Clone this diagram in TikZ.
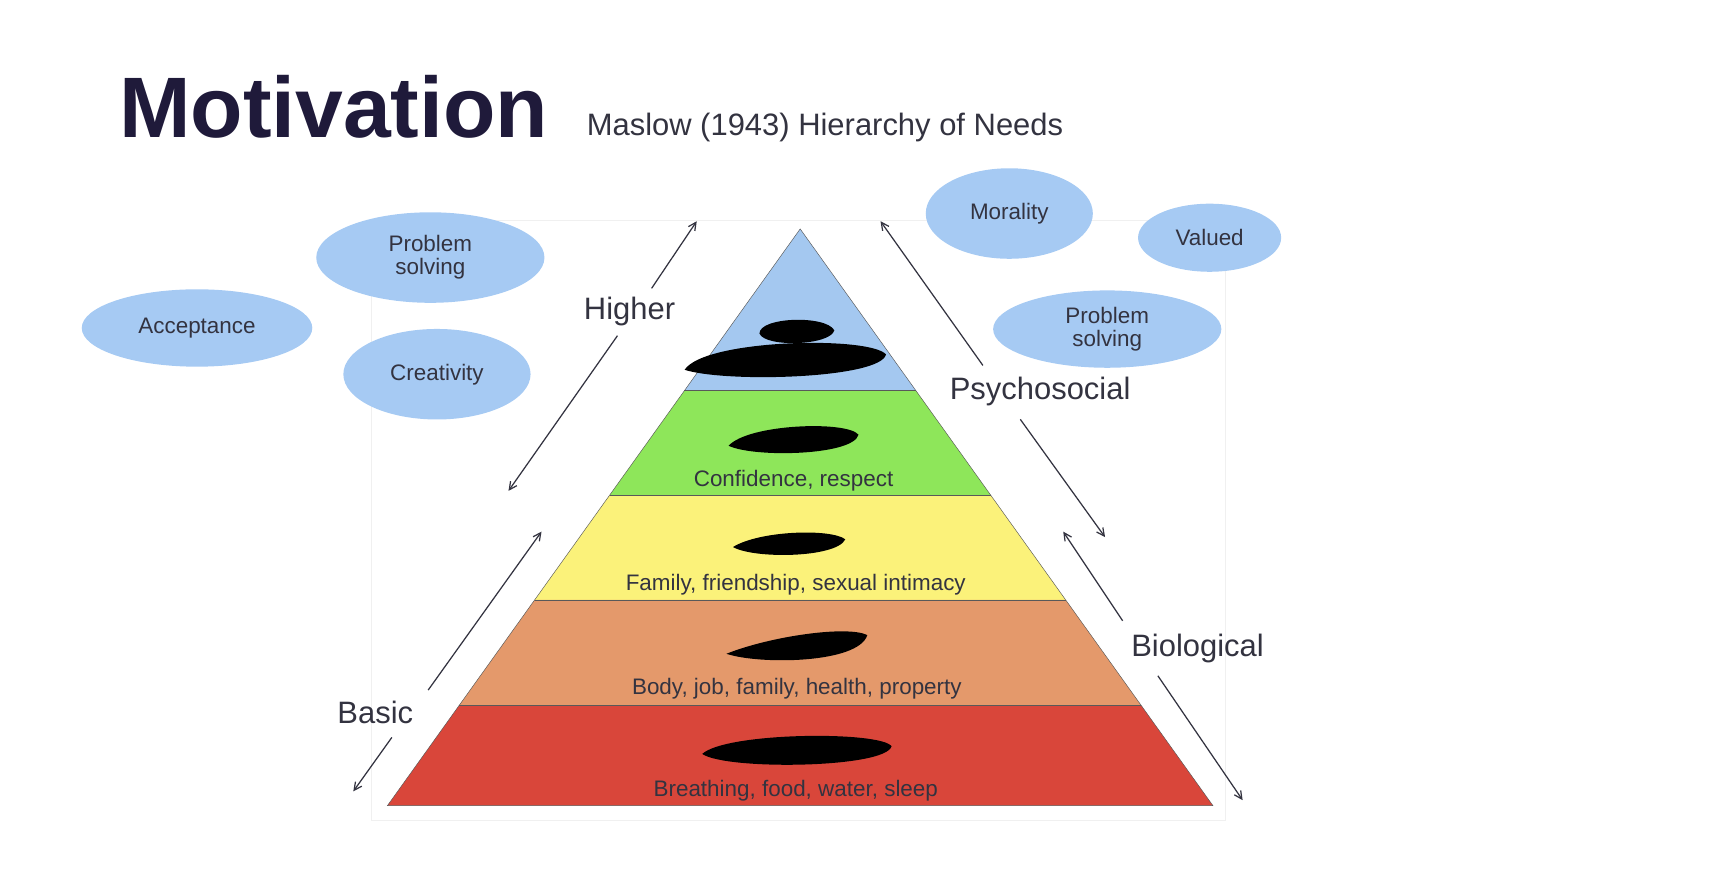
\documentclass[tikz,border=0pt]{standalone}
\usepackage{fontspec}
\setmainfont{Liberation Sans}
\usetikzlibrary{shapes.geometric,arrows.meta}
\definecolor{navy}{HTML}{1F1A3A}
\definecolor{txt}{HTML}{333340}
\definecolor{ell}{HTML}{A6CAF3}
\definecolor{lblue}{HTML}{A4C8F0}
\definecolor{lgreen}{HTML}{8EE65A}
\definecolor{lyellow}{HTML}{FBF27A}
\definecolor{lorange}{HTML}{E4996B}
\definecolor{lred}{HTML}{D9463A}
\begin{document}
\begin{tikzpicture}[x=0.05cm,y=-0.05cm,
  bub/.style={ellipse,fill=ell,draw=none,text=txt,font=\fontsize{29}{32}\selectfont,align=center,inner sep=0pt,minimum width=#1},
  lay/.style={text=txt,font=\fontsize{29}{30}\selectfont},
  side/.style={text=txt,font=\fontsize{40}{44}\selectfont,inner sep=4pt},
  arr/.style={draw=txt,line width=1.6pt,-{Straight Barb[length=10pt,width=10pt]}},
  blob/.style={fill=black}]
\useasboundingbox (0,0) rectangle (1560,814);
% title
\node[anchor=base west,inner sep=0,text=navy,font=\fontsize{111}{120}\selectfont\bfseries] (title) at (108,125) {Motivation};
\node[anchor=base west,inner sep=0,text=txt,font=\fontsize{40}{44}\selectfont] (sub) at (533,123) {Maslow (1943) Hierarchy of Needs};
% frame
\draw[black!6,line width=0.8pt] (337,200) rectangle (1113,745);
% pyramid layers
\def\lx#1{727-(#1-208)*0.7157}
\def\rx#1{727+(#1-208)*0.7157}
\fill[lblue] (727,208) -- ({\lx{355}},355) -- ({\rx{355}},355) -- cycle;
\fill[lgreen] ({\lx{355}},355) -- ({\rx{355}},355) -- ({\rx{450}},450) -- ({\lx{450}},450) -- cycle;
\fill[lyellow] ({\lx{450}},450) -- ({\rx{450}},450) -- ({\rx{545}},545) -- ({\lx{545}},545) -- cycle;
\fill[lorange] ({\lx{545}},545) -- ({\rx{545}},545) -- ({\rx{641}},641) -- ({\lx{641}},641) -- cycle;
\fill[lred] ({\lx{641}},641) -- ({\rx{641}},641) -- ({\rx{732}},732) -- ({\lx{732}},732) -- cycle;
\draw[gray!70!black,line width=0.6pt] (727,208) -- ({\lx{732}},732) -- ({\rx{732}},732) -- cycle;
\foreach \y in {355,450,545,641}{\draw[gray!70!black,line width=0.6pt] ({\lx{\y}},\y) -- ({\rx{\y}},\y);}
% blobs
\fill[blob] (690,303) .. controls (690,288) and (750,286) .. (758,300) .. controls (755,314) and (695,316) .. cycle;
\fill[blob] (622,336) .. controls (640,308) and (790,305) .. (805,322) .. controls (800,344) and (660,348) .. cycle;
\fill[blob] (662,405) .. controls (680,385) and (770,382) .. (780,395) .. controls (775,414) and (685,416) .. cycle;
\fill[blob] (666,497) .. controls (690,482) and (755,480) .. (768,490) .. controls (760,507) and (685,508) .. cycle;
\fill[blob] (660,594) .. controls (700,578) and (770,568) .. (788,577) .. controls (780,603) and (690,604) .. cycle;
\fill[blob] (638,685) .. controls (660,665) and (800,664) .. (810,678) .. controls (805,698) and (660,700) .. cycle;
% layer texts
\node[lay] (l2) at (721,437) {Confidence, respect};
\node[lay] (l3) at (723,531) {Family, friendship, sexual intimacy};
\node[lay] (l4) at (724,626) {Body, job, family, health, property};
\node[lay] (l5) at (723,718) {Breathing, food, water, sleep};
% bubbles
\node[bub=295pt,minimum height=117pt] (ps1) at (391,234) {Problem\\[-2pt]solving};
\node[bub=298pt,minimum height=100pt] (acc) at (179,298) {Acceptance};
\node[bub=242pt,minimum height=117pt] (cre) at (397,340) {Creativity};
\node[bub=216pt,minimum height=117pt] (mor) at (917,194) {Morality};
\node[bub=185pt,minimum height=88pt] (val) at (1099,216) {Valued};
\node[bub=295pt,minimum height=100pt] (ps2) at (1006,299) {Problem\\[-2pt]solving};
% side arrows
\node[side] (hi) at (572,283) {Higher};
\coordinate (hiA) at (633,201); \coordinate (hiB) at (462,446);
\draw[arr] (592,262) -- (hiA); \draw[arr] (561,305) -- (hiB);
\node[side] (ba) at (341,647) {Basic};
\coordinate (baA) at (492,483); \coordinate (baB) at (321,719);
\draw[arr] (389,627) -- (baA); \draw[arr] (356,670) -- (baB);
\node[side] (psy) at (945,356) {Psychosocial};
\coordinate (psA) at (800,201); \coordinate (psB) at (1004,488);
\draw[arr] (893,332) -- (psA); \draw[arr] (927,381) -- (psB);
\node[side] (bio) at (1088,589) {Biological};
\coordinate (biA) at (966,483); \coordinate (biB) at (1129,727);
\draw[arr] (1020,564) -- (biA); \draw[arr] (1052,614) -- (biB);
\end{tikzpicture}
\end{document}
